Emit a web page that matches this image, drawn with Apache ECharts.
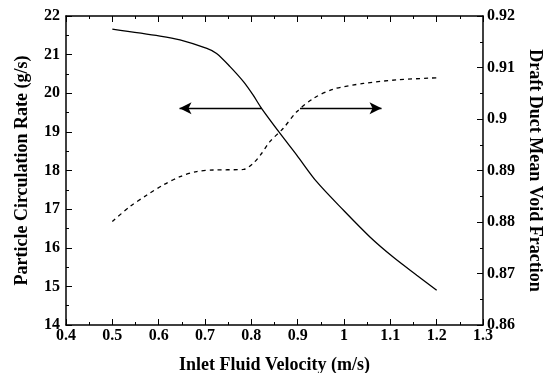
<!DOCTYPE html>
<html>
<head>
<meta charset="utf-8">
<script src="https://cdn.jsdelivr.net/npm/echarts@6/dist/echarts.min.js"></script>
<style>
  html, body { margin: 0; padding: 0; background: #fff; }
  #chart { width: 547px; height: 373px; }
</style>
</head>
<body>
<div id="chart"></div>
<script>
// circulation rate (solid, left axis)
const rateX = [0.5, 0.603, 0.646, 0.704, 0.725, 0.754, 0.783, 0.804, 0.822, 0.862, 0.898, 0.941, 0.999, 1.056, 1.106, 1.157, 1.2]
const rateY = [21.66, 21.48, 21.38, 21.16, 21.03, 20.69, 20.30, 19.95, 19.61, 18.96, 18.40, 17.71, 16.97, 16.28, 15.76, 15.29, 14.90]

// void fraction (dashed, right axis)
const voidX = [0.5, 0.538, 0.574, 0.61, 0.646, 0.682, 0.718, 0.783, 0.804, 0.822, 0.84, 0.869, 0.898, 0.934, 0.977, 1.042, 1.114, 1.2]
const voidY = [0.8801, 0.883, 0.8852, 0.8872, 0.8888, 0.8898, 0.8901, 0.8902, 0.8914, 0.8933, 0.8956, 0.8982, 0.9014, 0.904, 0.9058, 0.9069, 0.9076, 0.908]

// arrows pointing to each curve's axis (left axis units)
const arrowLeft = [[0.822, 19.61], [0.645, 19.61]]
const arrowRight = [[0.905, 19.61], [1.081, 19.61]]

const font = 'Liberation Serif'
const labelStyle = { fontFamily: font, fontWeight: 'bold', fontSize: 16, color: '#000' }
const nameStyle = { fontFamily: font, fontWeight: 'bold', fontSize: 18, color: '#000' }
const line = { lineStyle: { color: '#000', width: 1.5 } }

const chart = echarts.init(document.getElementById('chart'))

chart.setOption({
  animation: false,
  grid: { left: 66, right: 64, top: 16, bottom: 48, outerBoundsMode: 'none' },
  xAxis: [
    {
      type: 'value', min: 0.4, max: 1.3, interval: 0.1,
      name: 'Inlet Fluid Velocity (m/s)', nameLocation: 'middle', nameGap: 31,
      nameTextStyle: nameStyle,
      axisLine: line,
      axisTick: { inside: true, length: 6, lineStyle: { color: '#000', width: 1 } },
      minorTick: { show: true, splitNumber: 2, length: 3, lineStyle: { color: '#000' } },
      axisLabel: { ...labelStyle, margin: 3 },
      splitLine: { show: false }
    },
    {
      type: 'value', position: 'top', min: 0.4, max: 1.3, interval: 0.1,
      axisLine: line,
      axisTick: { inside: true, length: 6, lineStyle: { color: '#000', width: 1 } },
      minorTick: { show: true, splitNumber: 2, length: 3, lineStyle: { color: '#000' } },
      axisLabel: { show: false },
      splitLine: { show: false }
    }
  ],
  yAxis: [
    {
      type: 'value', min: 14, max: 22, interval: 1,
      name: 'Particle Circulation Rate (g/s)', nameLocation: 'middle', nameGap: 35,
      nameTextStyle: nameStyle,
      axisLine: { show: true, ...line },
      axisTick: { inside: true, length: 6, lineStyle: { color: '#000', width: 1 } },
      minorTick: { show: true, splitNumber: 2, length: 3, lineStyle: { color: '#000' } },
      axisLabel: { ...labelStyle, margin: 6 },
      splitLine: { show: false }
    },
    {
      type: 'value', position: 'right', min: 0.86, max: 0.92, interval: 0.01,
      name: 'Draft Duct Mean Void Fraction', nameLocation: 'middle', nameGap: 43,
      nameRotate: -90,
      nameTextStyle: nameStyle,
      axisLine: { show: true, ...line },
      axisTick: { inside: true, length: 6, lineStyle: { color: '#000', width: 1 } },
      minorTick: { show: true, splitNumber: 2, length: 3, lineStyle: { color: '#000' } },
      axisLabel: { ...labelStyle, margin: 4 },
      splitLine: { show: false }
    }
  ],
  series: [
    {
      type: 'line', yAxisIndex: 0,
      data: rateX.map((x, i) => [x, rateY[i]]),
      smooth: 0.3, showSymbol: false,
      lineStyle: { color: '#000', width: 1.3 },
      markLine: {
        silent: true,
        symbol: ['none', 'arrow'], symbolSize: [9, 12],
        label: { show: false },
        lineStyle: { color: '#000', width: 1.3, type: 'solid' },
        data: [
          [{ coord: arrowLeft[0] }, { coord: arrowLeft[1] }],
          [{ coord: arrowRight[0] }, { coord: arrowRight[1] }]
        ]
      }
    },
    {
      type: 'line', yAxisIndex: 1,
      data: voidX.map((x, i) => [x, voidY[i]]),
      smooth: 0.3, showSymbol: false,
      lineStyle: { color: '#000', width: 1.3, type: [4, 4] }
    }
  ]
})
</script>
</body>
</html>
